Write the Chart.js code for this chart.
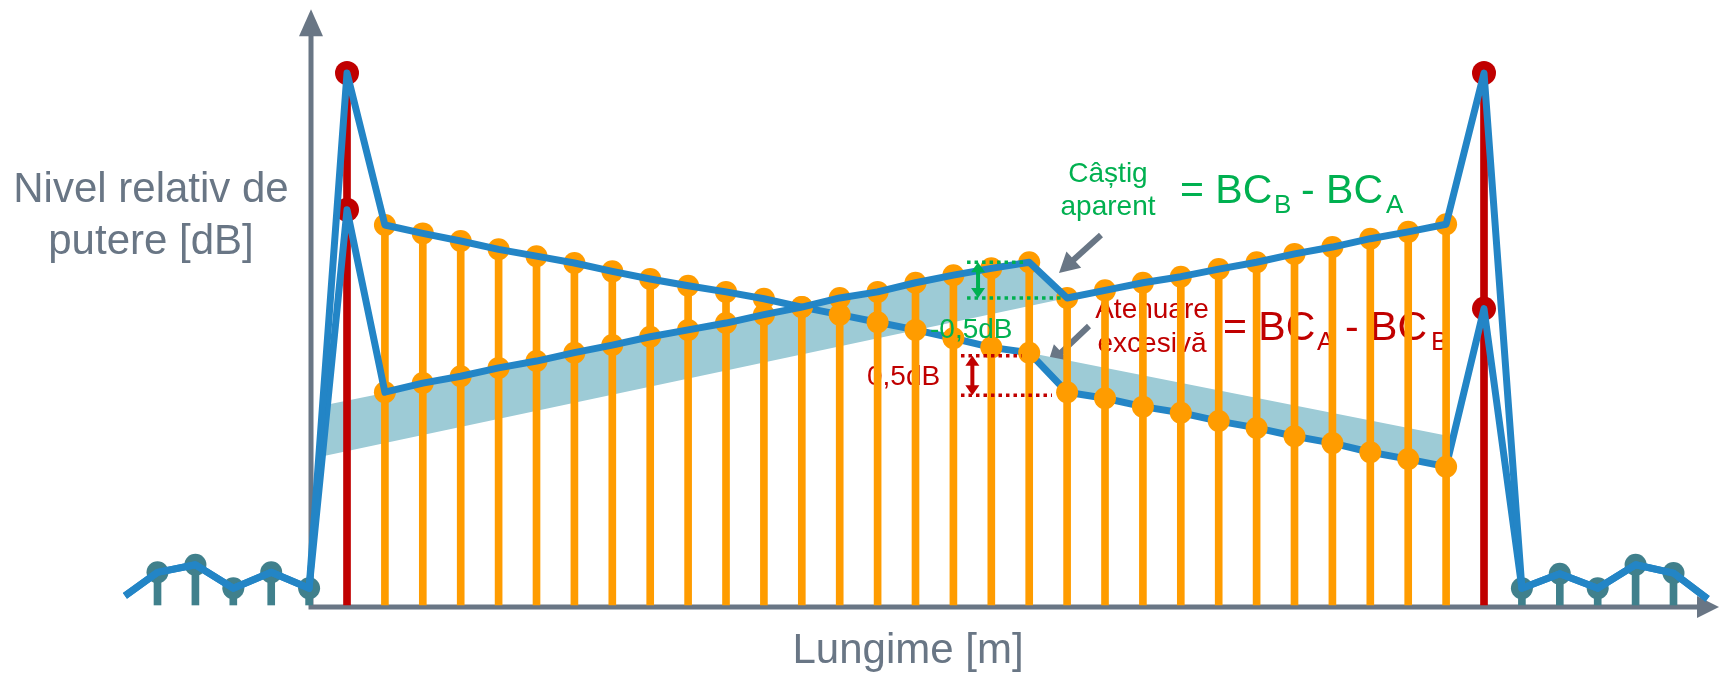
<!DOCTYPE html>
<html>
<head>
<meta charset="utf-8">
<script src="https://cdn.jsdelivr.net/npm/chart.js@4.4.1/dist/chart.umd.min.js"></script>
<style>
    html, body { margin: 0; padding: 0; background: #fff; }
    #wrap { width: 1723px; height: 673px; position: relative; }
</style>
</head>
<body>
<div id="wrap"><canvas id="otdr"></canvas></div>
<script>
// Sample positions along the fibre (0 = near-end reflection, 30 = far-end reflection)
const sampleIdx = [1, 2, 3, 4, 5, 6, 7, 8, 9, 10, 11, 12, 13, 14, 15, 16, 17, 18, 19, 20, 21, 22, 23, 24, 25, 26, 27, 28, 29];
// Backscatter level, measured from end A and from end B (relative dB)
const traceA = [5.00, 4.89, 4.79, 4.68, 4.59, 4.50, 4.39, 4.29, 4.20, 4.12, 4.03, 3.92, 3.82, 3.72, 3.62, 3.51, 3.39, 3.32, 2.80, 2.72, 2.61, 2.53, 2.42, 2.33, 2.22, 2.13, 2.01, 1.92, 1.82];
const traceB = [2.80, 2.92, 3.01, 3.12, 3.21, 3.32, 3.42, 3.53, 3.62, 3.71, 3.82, 3.92, 4.04, 4.12, 4.24, 4.34, 4.43, 4.51, 4.04, 4.14, 4.24, 4.32, 4.42, 4.51, 4.62, 4.71, 4.82, 4.91, 5.01];

// Reflection peaks at both fibre ends
const eventIdx = [0, 30];
const peakA = [7.0, 3.9];
const peakB = [5.2, 7.0];

// Noise floor before and after the fibre
const noiseLeftIdx = [-5, -4, -3, -2, -1];
const noiseLeft = [0.43, 0.53, 0.22, 0.43, 0.22];
const noiseRightIdx = [31, 32, 33, 34, 35];
const noiseRight = [0.22, 0.41, 0.22, 0.53, 0.42];
const traceStart = [-5.86, 0.12];
const traceEnd = [35.9, 0.08];

// Shaded 0,5 dB offset regions (polygons)
const gainBandIdx = [-0.7, 18, 19, -0.7];
const gainBandVal = [2.62, 4.51, 4.04, 1.95];
const lossBandIdx = [18, 29.1, 29.1, 19];
const lossBandVal = [3.32, 2.22, 1.82, 2.80];

const splitIdx = 12; // where trace A passes under the orange markers

// Colours
const blue = '#2385c6';
const orange = '#ff9c00';
const red = '#c00000';
const teal = '#40808c';
const band = '#9dcbd6';
const grey = '#697685';
const green = '#00b050';
const font = '"Liberation Sans", Arial, sans-serif';

function tracePoints(main, peaks) {
    const pts = [{ x: traceStart[0], y: traceStart[1] }];
    noiseLeftIdx.forEach((k, i) => pts.push({ x: k, y: noiseLeft[i] }));
    pts.push({ x: eventIdx[0], y: peaks[0] });
    sampleIdx.forEach((k, i) => pts.push({ x: k, y: main[i] }));
    pts.push({ x: eventIdx[1], y: peaks[1] });
    noiseRightIdx.forEach((k, i) => pts.push({ x: k, y: noiseRight[i] }));
    pts.push({ x: traceEnd[0], y: traceEnd[1] });
    return pts;
}

const ptsA = tracePoints(traceA, peakA);
const ptsB = tracePoints(traceB, peakB);
const ptsA1 = ptsA.filter(p => p.x <= splitIdx);
const ptsA2 = ptsA.filter(p => p.x >= splitIdx);

const orangeStems = sampleIdx.map((k, i) => ({ x: k, y: Math.max(traceA[i], traceB[i]) }));
const redStems = eventIdx.map((k, i) => ({ x: k, y: Math.max(peakA[i], peakB[i]) }));
const noiseStems = noiseLeftIdx.map((k, i) => ({ x: k, y: noiseLeft[i] }))
    .concat(noiseRightIdx.map((k, i) => ({ x: k, y: noiseRight[i] })));

const orangeDots = sampleIdx.map((k, i) => ({ x: k, y: traceA[i] }))
    .concat(sampleIdx.map((k, i) => ({ x: k, y: traceB[i] })));
const redDots = eventIdx.map((k, i) => ({ x: k, y: peakA[i] }))
    .concat(eventIdx.map((k, i) => ({ x: k, y: peakB[i] })));

function polygon(xs, ys) {
    return xs.map((x, i) => ({ x: x, y: ys[i] }));
}

function stemSet(data, color, order) {
    return {
        type: 'bar', data: data, backgroundColor: color, borderWidth: 0,
        barThickness: 7, grouped: false, order: order
    };
}

function dotSet(data, color, radius, order) {
    return {
        type: 'line', data: data, showLine: false, pointRadius: radius, pointHoverRadius: radius,
        pointBackgroundColor: color, pointBorderWidth: 0, order: order
    };
}

function lineSet(data, order) {
    return {
        type: 'line', data: data, borderColor: blue, borderWidth: 7, pointRadius: 0,
        borderJoinStyle: 'round', tension: 0, fill: false, order: order
    };
}

function bandSet(data, order) {
    return {
        type: 'line', data: data, borderColor: 'rgba(0,0,0,0)', borderWidth: 0,
        backgroundColor: band, fill: 'shape', pointRadius: 0, order: order
    };
}

// Helpers for the drawing plugin
function arrowHead(ctx, tx, ty, fx, fy, len, halfW, color) {
    const dx = tx - fx, dy = ty - fy;
    const d = Math.hypot(dx, dy);
    const ux = dx / d, uy = dy / d;
    const bx = tx - ux * len, by = ty - uy * len;
    ctx.fillStyle = color;
    ctx.beginPath();
    ctx.moveTo(tx, ty);
    ctx.lineTo(bx - uy * halfW, by + ux * halfW);
    ctx.lineTo(bx + uy * halfW, by - ux * halfW);
    ctx.closePath();
    ctx.fill();
}

function arrow(ctx, fx, fy, tx, ty, width, len, halfW, color) {
    const d = Math.hypot(tx - fx, ty - fy);
    const ux = (tx - fx) / d, uy = (ty - fy) / d;
    ctx.strokeStyle = color;
    ctx.lineWidth = width;
    ctx.setLineDash([]);
    ctx.beginPath();
    ctx.moveTo(fx, fy);
    ctx.lineTo(tx - ux * (len - 1), ty - uy * (len - 1));
    ctx.stroke();
    arrowHead(ctx, tx, ty, fx, fy, len, halfW, color);
}

function doubleArrow(ctx, x, y1, y2, color) {
    ctx.strokeStyle = color;
    ctx.lineWidth = 4;
    ctx.setLineDash([]);
    ctx.beginPath();
    ctx.moveTo(x, y1 + 8);
    ctx.lineTo(x, y2 - 8);
    ctx.stroke();
    arrowHead(ctx, x, y1, x, y2, 10, 7, color);
    arrowHead(ctx, x, y2, x, y1, 10, 7, color);
}

function dotted(ctx, x1, x2, y, color) {
    ctx.strokeStyle = color;
    ctx.lineWidth = 3.5;
    ctx.setLineDash([3.5, 4]);
    ctx.beginPath();
    ctx.moveTo(x1, y);
    ctx.lineTo(x2, y);
    ctx.stroke();
    ctx.setLineDash([]);
}

function text(ctx, str, x, y, size, color, align) {
    ctx.font = size + 'px ' + font;
    ctx.fillStyle = color;
    ctx.textAlign = align || 'left';
    ctx.textBaseline = 'alphabetic';
    ctx.fillText(str, x, y);
}

const drawingPlugin = {
    id: 'otdrDrawing',
    // axes and labels that sit under the traces
    beforeDatasetsDraw(chart) {
        const ctx = chart.ctx;
        const sx = chart.scales.x, sy = chart.scales.y;
        const px = v => sx.getPixelForValue(v);
        const py = v => sy.getPixelForValue(v);
        ctx.save();

        // Axes with arrows
        const ax = px(-0.95), ay = py(0) + 2;
        const yTip = py(7.84), xTip = px(36.2);
        ctx.strokeStyle = grey;
        ctx.lineWidth = 5;
        ctx.beginPath();
        ctx.moveTo(ax, ay + 2.5);
        ctx.lineTo(ax, yTip + 26);
        ctx.moveTo(ax - 2.5, ay);
        ctx.lineTo(xTip - 21, ay);
        ctx.stroke();
        arrowHead(ctx, ax, yTip, ax, ay, 27, 12, grey);
        arrowHead(ctx, xTip, ay, ax, ay, 22, 11, grey);

        // Axis titles
        text(ctx, 'Nivel relativ de', 151, 202, 42, grey, 'center');
        text(ctx, 'putere [dB]', 151, 254, 42, grey, 'center');
        text(ctx, 'Lungime [m]', 908, 663, 42, grey, 'center');

        text(ctx, '0,5dB', 867, 385, 28, red);

        // Labels
        text(ctx, 'Câștig', 1108, 182, 28, green, 'center');
        text(ctx, 'aparent', 1108, 215, 28, green, 'center');
        text(ctx, '= BC', 1180, 203, 41, green);
        text(ctx, 'B', 1274, 213, 26, green);
        text(ctx, '- BC', 1301, 203, 41, green);
        text(ctx, 'A', 1386, 213, 26, green);

        text(ctx, 'Atenuare', 1152, 318, 28, red, 'center');
        text(ctx, 'excesivă', 1152, 352, 28, red, 'center');
        text(ctx, '= BC', 1223, 340, 41, red);
        text(ctx, 'A', 1317, 350, 26, red);
        text(ctx, '- BC', 1345, 340, 41, red);
        text(ctx, 'B', 1431, 350, 26, red);

        // Pointer arrows
        arrow(ctx, 1101, 235, 1059, 273, 6, 20, 11, grey);
        arrow(ctx, 1089, 326, 1047, 366, 6, 20, 11, grey);

        ctx.restore();
    },
    // 0,5 dB step markers on top
    afterDatasetsDraw(chart) {
        const ctx = chart.ctx;
        const sx = chart.scales.x, sy = chart.scales.y;
        const px = v => sx.getPixelForValue(v);
        const py = v => sy.getPixelForValue(v);
        ctx.save();

        const gTop = py(traceB[17]), gBot = py(traceB[18]);
        dotted(ctx, px(16.36), px(17.9), gTop, green);
        dotted(ctx, px(16.36), px(18.85), gBot, green);
        doubleArrow(ctx, px(16.65), gTop, gBot, green);
        const rTop = py(traceA[17]) + 3, rBot = py(traceA[18]) + 3;
        dotted(ctx, px(16.2), px(17.8), rTop, red);
        dotted(ctx, px(16.2), px(18.6), rBot, red);
        doubleArrow(ctx, px(16.5), rTop, rBot, red);
        text(ctx, '-0,5dB', 930, 338, 28, green);

        ctx.restore();
    }
};

const chart = new Chart(document.getElementById('otdr'), {
    type: 'line',
    data: {
        datasets: [
            lineSet(ptsA1, 2),
            lineSet(ptsB, 3),
            dotSet(orangeDots, orange, 11, 4),
            stemSet(orangeStems, orange, 5),
            lineSet(ptsA2, 6),
            dotSet(noiseStems, teal, 11, 7),
            stemSet(noiseStems, teal, 8),
            dotSet(redDots, red, 12, 8),
            stemSet(redStems, red, 9),
            bandSet(polygon(gainBandIdx, gainBandVal), 10),
            bandSet(polygon(lossBandIdx, lossBandVal), 10)
        ]
    },
    options: {
        responsive: true,
        maintainAspectRatio: false,
        animation: false,
        events: [],
        layout: { padding: 0, autoPadding: false },
        scales: {
            x: { type: 'linear', min: -9.156, max: 36.306, offset: false, display: false },
            y: { type: 'linear', min: -0.895, max: 7.961, display: false }
        },
        plugins: {
            legend: { display: false },
            tooltip: { enabled: false }
        }
    },
    plugins: [drawingPlugin]
});
</script>
</body>
</html>
